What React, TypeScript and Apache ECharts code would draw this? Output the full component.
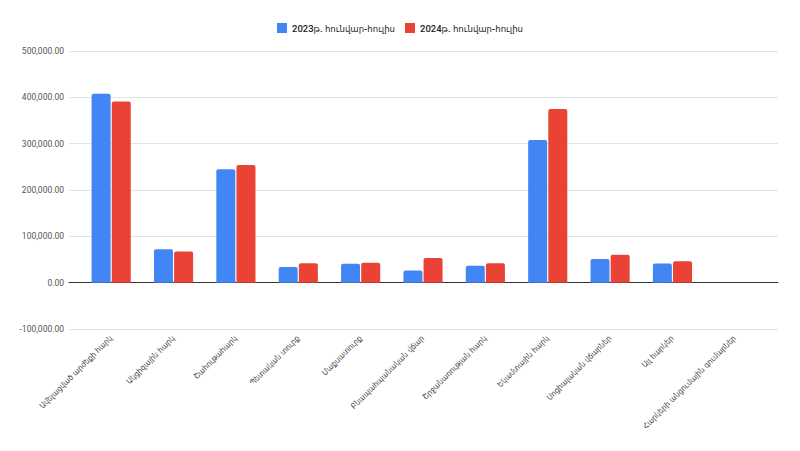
import React, { useEffect, useRef } from "react";
import * as echarts from "echarts";

const categories = [
  "Ավելացված արժեքի հարկ",
  "Ակցիզային հարկ",
  "Շահութահարկ",
  "Պետական տուրք",
  "Մաքսատուրք",
  "Բնապահպանական վճար",
  "Շրջանառության հարկ",
  "Եկամտային հարկ",
  "Սոցիալական վճարներ",
  "Այլ հարկեր",
  "Հարկերի անցումային գումարներ",
];
const series2023 = [408000, 72000, 245000, 34000, 41000, 26500, 36500, 308000, 51000, 41500, 0];
const series2024 = [391000, 67000, 254000, 42000, 43000, 53000, 42000, 375000, 60000, 46000, 0];
const legendNames = ["2023թ. հունվար-հուլիս", "2024թ. հունվար-հուլիս"];
const yMin = -100000;
const yMax = 500000;
const yStep = 100000;

const FONT = "Roboto, 'DejaVu Sans Condensed', 'DejaVu Sans', sans-serif";
const LABEL_FONT = "'DejaVu Sans Condensed', 'DejaVu Sans', sans-serif";

export default function App() {
  const ref = useRef<HTMLDivElement>(null);
  useEffect(() => {
    if (!ref.current) return;
    const chart = echarts.init(ref.current, undefined, { renderer: "svg" });
    chart.setOption({
      animation: false,
      backgroundColor: "#ffffff",
      legend: {
        top: 10,
        left: "center",
        itemWidth: 10,
        itemHeight: 10,
        itemGap: 10,
        icon: "rect",
        textStyle: { fontFamily: FONT, fontSize: 9.5, color: "#222", fontWeight: 500 },
        data: legendNames,
      },
      grid: [
        { left: 61, right: 14, top: 43, bottom: 114, outerBoundsMode: "none" },
        { left: 72, right: 26, top: 43, bottom: 114, outerBoundsMode: "none" },
      ],
      xAxis: [
        {
          gridIndex: 0,
          type: "value",
          min: 0,
          max: 1,
          axisLabel: { show: false },
          axisTick: { show: false },
          splitLine: { show: false },
          axisLine: { show: true, onZero: true, lineStyle: { color: "#333", width: 1 } },
        },
        {
          gridIndex: 1,
          type: "category",
          data: categories,
          position: "bottom",
          axisTick: { show: false },
          axisLine: { show: false, onZero: false },
          axisLabel: {
            rotate: 45,
            interval: 0,
            fontFamily: LABEL_FONT,
            fontSize: 8,
            color: "#444",
            margin: 8,
            padding: [0, 0, 0, 0],
          },
        },
      ],
      yAxis: [
        {
          gridIndex: 0,
          type: "value",
          min: yMin,
          max: yMax,
          interval: yStep,
          axisLine: { show: false },
          axisTick: { show: false },
          splitLine: { lineStyle: { color: "#e4e4e4", width: 1 } },
          axisLabel: {
            fontFamily: FONT,
            fontSize: 8.5,
            color: "#555",
            margin: 5,
            formatter: (v: number) =>
              v.toLocaleString("en-US", { minimumFractionDigits: 2, maximumFractionDigits: 2 }),
          },
        },
        {
          gridIndex: 1,
          type: "value",
          min: yMin,
          max: yMax,
          interval: yStep,
          show: false,
          splitLine: { show: false },
        },
      ],
      series: [
        {
          name: legendNames[0],
          type: "bar",
          xAxisIndex: 1,
          yAxisIndex: 1,
          data: series2023,
          barWidth: 19,
          barGap: "6%",
          itemStyle: { color: "#4285F4", borderRadius: [2, 2, 0, 0] },
        },
        {
          name: legendNames[1],
          type: "bar",
          xAxisIndex: 1,
          yAxisIndex: 1,
          data: series2024,
          barWidth: 19,
          barGap: "6%",
          itemStyle: { color: "#EA4335", borderRadius: [2, 2, 0, 0] },
        },
      ],
    });
    return () => chart.dispose();
  }, []);
  return <div ref={ref} style={{ width: 784, height: 435 }} />;
}
